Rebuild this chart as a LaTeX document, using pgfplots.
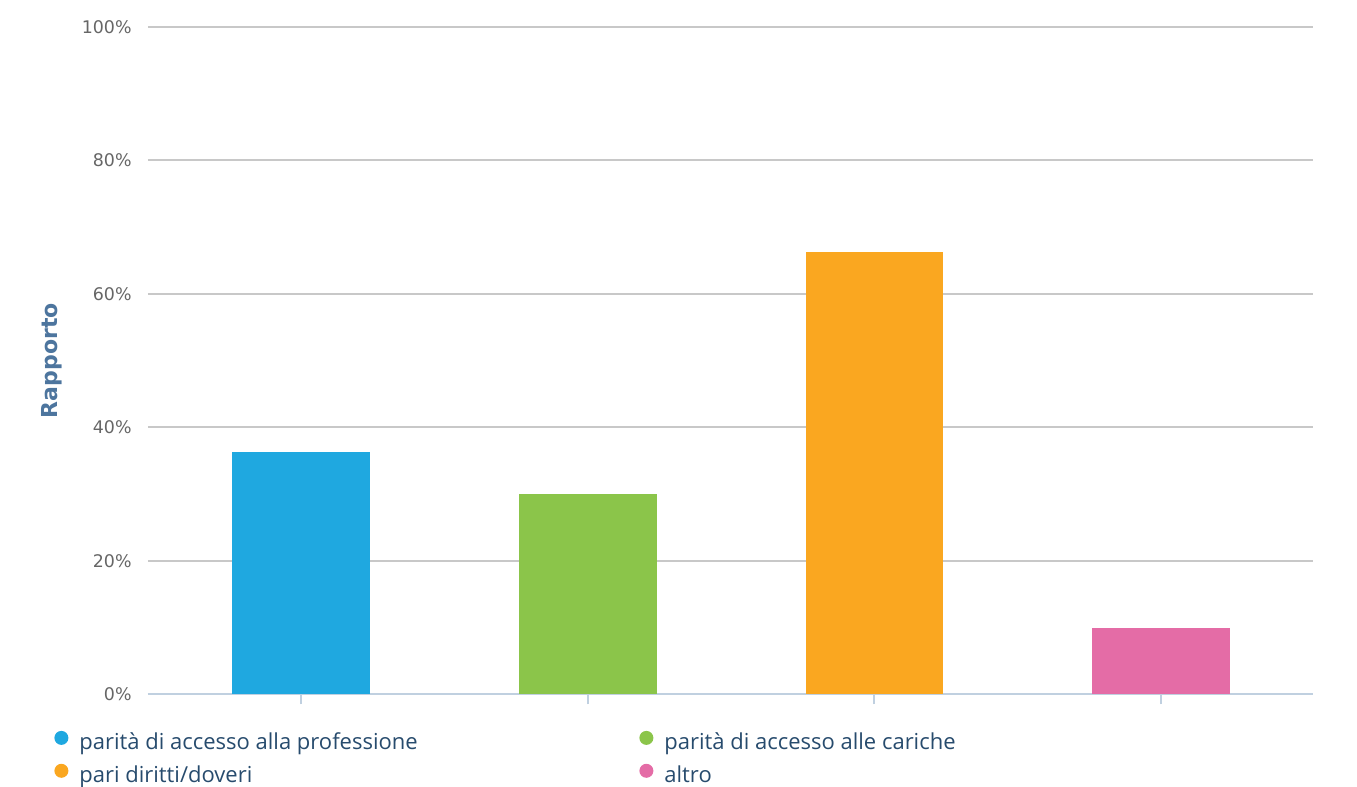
\documentclass[border=0pt]{standalone}
\usepackage{fontspec}
\setmainfont{Open Sans}
\newfontfamily\dejavu{DejaVu Sans}
\usepackage{pgfplots}
\pgfplotsset{compat=1.18}
\definecolor{cblue}{RGB}{31,168,224}
\definecolor{cgreen}{RGB}{139,197,74}
\definecolor{corange}{RGB}{250,167,32}
\definecolor{cpink}{RGB}{228,108,166}
\definecolor{gridc}{RGB}{200,200,200}
\definecolor{axc}{RGB}{192,208,224}
\definecolor{tickc}{RGB}{102,102,102}
\definecolor{titlec}{RGB}{77,117,158}
\definecolor{legc}{RGB}{39,75,109}

\pgfplotsset{
  mybar/.style={ybar, bar width=0.48, bar shift=0pt, draw=none, fill=#1,
    legend image code/.code={\fill[#1] (3.5pt,3.2pt) circle (3.5pt);}},
}

\begin{document}
\begin{tikzpicture}
\path[use as bounding box] (0,0) rectangle (678.5pt,393.5pt);
\begin{axis}[
    scale only axis,
    width=582.5pt, height=333.9pt,
    at={(74pt,46.25pt)}, anchor=south west,
    xmin=-0.534, xmax=3.53,
    ymin=0, ymax=100,
    axis x line*=bottom, axis y line*=left,
    x axis line style={-, color=axc, line width=1pt},
    y axis line style={draw=none},
    xtick={0,1,2,3}, xticklabels={},
    xtick style={color=axc, line width=1pt},
    ytick={0,20,...,100},
    ytick style={draw=none},
    tick align=outside,
    major tick length=5pt,
    /pgf/number format/assume math mode=true,
    yticklabel={\pgfmathprintnumber{\tick}\%},
    yticklabel style={font=\dejavu\fontsize{8.7}{10}\selectfont, color=tickc, inner xsep=0pt, xshift=-3pt},
    ymajorgrids,
    grid style={color=gridc, line width=1pt},
    every axis y label/.style={at={(axis description cs:-0.0824,0.5)}, rotate=90, anchor=center,
        font=\dejavu\bfseries\fontsize{11}{13}\selectfont, color=titlec},
    ylabel={Rapporto},
    legend columns=2,
    legend style={draw=none, fill=none, at={(0,0)}, anchor=north west,
        xshift=-47pt, yshift=-18pt, column sep=0pt, row sep=4.5pt, inner sep=0pt,
        font=\fontsize{11}{13}\selectfont, text=legc,
        nodes={inner xsep=0pt, inner ysep=0pt, text height=8pt, text depth=2.5pt},
        /tikz/every odd column/.append style={column sep=5.5pt}},
    legend cell align=left,
]
\addplot[mybar=cblue] coordinates {(0,36.25)};
\addlegendentry{\makebox[280pt][l]{parità di accesso alla professione}}
\addplot[mybar=cgreen] coordinates {(1,30)};
\addlegendentry{parità di accesso alle cariche}
\addplot[mybar=corange] coordinates {(2,66.25)};
\addlegendentry{\makebox[280pt][l]{pari diritti/doveri}}
\addplot[mybar=cpink] coordinates {(3,10)};
\addlegendentry{altro}
\end{axis}
\end{tikzpicture}
\end{document}
